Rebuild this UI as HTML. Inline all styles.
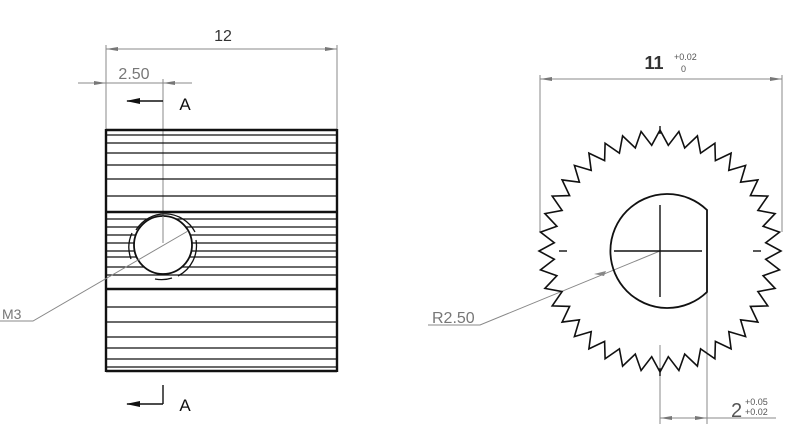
<!DOCTYPE html>
<html><head><meta charset="utf-8"><style>
html,body{margin:0;padding:0;background:#fff;}
svg{display:block;}
text{font-family:"Liberation Sans",sans-serif;}
</style></head><body>
<svg id="s" width="800" height="436" viewBox="0 0 800 436" xmlns="http://www.w3.org/2000/svg">
<defs>
<marker id="ar" markerWidth="12" markerHeight="6" refX="12" refY="3" orient="auto" markerUnits="userSpaceOnUse"><path d="M0,1 L12,3 L0,5z" fill="#777"/></marker>
<marker id="al" markerWidth="12" markerHeight="6" refX="0" refY="3" orient="auto" markerUnits="userSpaceOnUse"><path d="M12,1 L0,3 L12,5z" fill="#777"/></marker>
</defs>
<g stroke="#888" stroke-width="1" fill="none">
<line x1="106" y1="45" x2="106" y2="129"/>
<line x1="337" y1="45" x2="337" y2="129"/>
<line x1="106" y1="49" x2="337" y2="49" marker-start="url(#al)" marker-end="url(#ar)"/>
<line x1="78" y1="83" x2="106" y2="83" marker-end="url(#ar)"/>
<line x1="192" y1="83" x2="163" y2="83" marker-end="url(#ar)"/>
<line x1="106" y1="83" x2="163" y2="83"/>
<line x1="163" y1="79" x2="163" y2="243"/>
</g>
<text x="223" y="41" font-size="16" text-anchor="middle" fill="#333">12</text>
<text x="134" y="79" font-size="16" text-anchor="middle" fill="#777">2.50</text>
<g stroke="#111" stroke-width="1.4" fill="none">
<line x1="127" y1="101" x2="163" y2="101"/>
<line x1="163" y1="385" x2="163" y2="404"/>
<line x1="127" y1="404" x2="163" y2="404"/>
</g>
<path d="M126,101 L140,98 L140,104z" fill="#111"/>
<path d="M126,404 L140,401 L140,407z" fill="#111"/>
<text x="185" y="110" font-size="17" text-anchor="middle" fill="#111">A</text>
<text x="185" y="411" font-size="17" text-anchor="middle" fill="#111">A</text>
<g stroke="#111" stroke-width="1.3">
<line x1="106" y1="135" x2="337" y2="135"/>
<line x1="106" y1="143" x2="337" y2="143"/>
<line x1="106" y1="153" x2="337" y2="153"/>
<line x1="106" y1="165" x2="337" y2="165"/>
<line x1="106" y1="179" x2="337" y2="179"/>
<line x1="106" y1="196" x2="337" y2="196"/>
<line x1="106" y1="219" x2="337" y2="219"/>
<line x1="106" y1="227" x2="337" y2="227"/>
<line x1="106" y1="235" x2="337" y2="235"/>
<line x1="106" y1="243" x2="337" y2="243"/>
<line x1="106" y1="251" x2="337" y2="251"/>
<line x1="106" y1="257" x2="337" y2="257"/>
<line x1="106" y1="267" x2="337" y2="267"/>
<line x1="106" y1="275" x2="337" y2="275"/>
<line x1="106" y1="307" x2="337" y2="307"/>
<line x1="106" y1="322" x2="337" y2="322"/>
<line x1="106" y1="337" x2="337" y2="337"/>
<line x1="106" y1="348" x2="337" y2="348"/>
<line x1="106" y1="359" x2="337" y2="359"/>
<line x1="106" y1="367" x2="337" y2="367"/>
</g>
<g stroke="#111" stroke-width="2.4" fill="none">
<line x1="106" y1="130" x2="337" y2="130"/>
<line x1="106" y1="212" x2="337" y2="212"/>
<line x1="106" y1="289" x2="337" y2="289"/>
<line x1="106" y1="371" x2="337" y2="371"/>
<line x1="106" y1="129" x2="106" y2="372"/>
<line x1="337" y1="129" x2="337" y2="372"/>
</g>
<path d="M136,230 A34,34 0 0 1 195,232" stroke="#111" stroke-width="1.3" fill="none"/>
<path d="M132,233 A34,34 0 0 0 131,259" stroke="#111" stroke-width="1.3" fill="none"/>
<path d="M196,240 A34,34 0 0 1 178,276" stroke="#111" stroke-width="1.3" fill="none"/>
<path d="M155,279 A34,34 0 0 0 172,278" stroke="#111" stroke-width="1.3" fill="none"/>
<circle cx="163" cy="245" r="29" fill="#fff" stroke="#111" stroke-width="1.8"/>
<line x1="163" y1="216" x2="163" y2="243" stroke="#888"/>
<polyline points="188,231 33,321 0,321" stroke="#888" fill="none"/>
<text x="2" y="319" font-size="14" fill="#777">M3</text>
<g stroke="#888" stroke-width="1" fill="none">
<line x1="540" y1="75" x2="540" y2="232"/>
<line x1="782" y1="75" x2="782" y2="232"/>
<line x1="540" y1="79" x2="782" y2="79" marker-start="url(#al)" marker-end="url(#ar)"/>
<line x1="660" y1="345" x2="660" y2="424"/>
<line x1="707" y1="292" x2="707" y2="424"/>
<line x1="660" y1="418" x2="707" y2="418" marker-start="url(#al)" marker-end="url(#ar)"/>
<line x1="707" y1="418" x2="776" y2="418"/>
<polyline points="660,251 480,325 428,325"/>
</g>
<path d="M594,274 L606,271 L604,276z" fill="#888"/>
<text x="654" y="69" font-size="18" font-weight="bold" text-anchor="middle" fill="#333">11</text>
<text x="674" y="60" font-size="9" fill="#555">+0.02</text>
<text x="681" y="72" font-size="9" fill="#555">0</text>
<text x="731" y="417" font-size="20" fill="#555">2</text>
<text x="745" y="405" font-size="9" fill="#555">+0.05</text>
<text x="745" y="415" font-size="9" fill="#555">+0.02</text>
<text x="432" y="323" font-size="16" fill="#777">R2.50</text>
<polygon id="gear" fill="none" stroke="#111" stroke-width="1.6"/>
<path d="M707,210 A57,57 0 1 0 707,292 Z" fill="none" stroke="#111" stroke-width="1.8"/>
<g stroke="#111" stroke-width="1.4">
<line x1="614" y1="251" x2="702" y2="251"/>
<line x1="660" y1="205" x2="660" y2="297"/>
<line x1="660" y1="126" x2="660" y2="134"/>
<line x1="660" y1="368" x2="660" y2="376"/>
<line x1="559" y1="251" x2="567" y2="251"/>
<line x1="753" y1="251" x2="761" y2="251"/>
</g>
</svg>
<script>
var n=40,pts=[],cx=660,cy=251;
for(var i=0;i<n;i++){
 var a=(i/n)*2*Math.PI-Math.PI/2;
 var b=((i+0.5)/n)*2*Math.PI-Math.PI/2;
 pts.push((cx+121*Math.cos(a)).toFixed(1)+","+(cy+121*Math.sin(a)).toFixed(1));
 pts.push((cx+106*Math.cos(b)).toFixed(1)+","+(cy+106*Math.sin(b)).toFixed(1));
}
document.getElementById("gear").setAttribute("points",pts.join(" "));
</script>
</body></html>
